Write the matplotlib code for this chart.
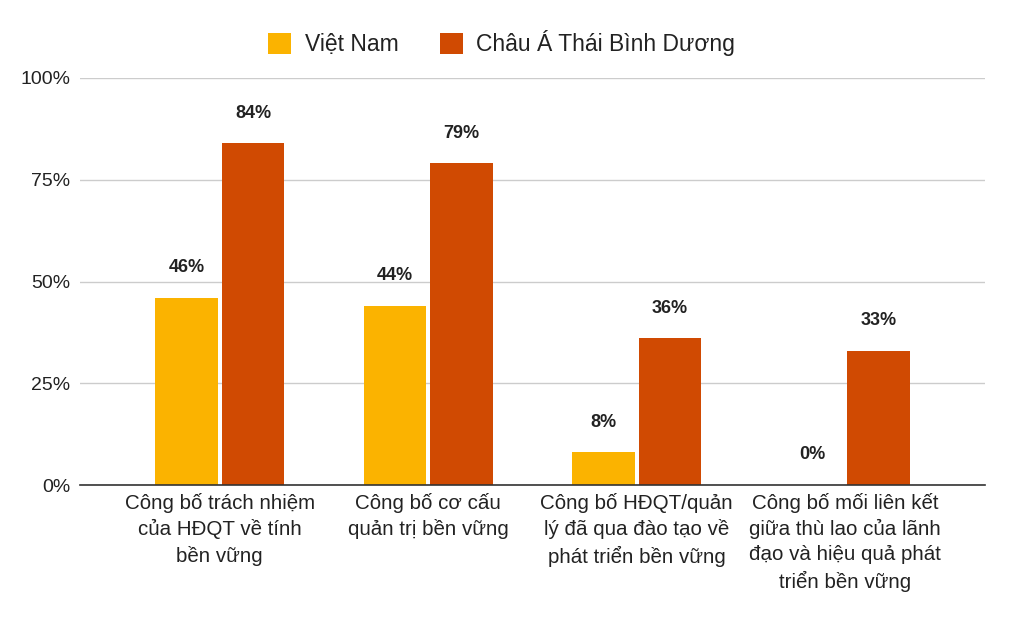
import matplotlib
matplotlib.use("Agg")
import matplotlib.pyplot as plt
import numpy as np

plt.rcParams["font.family"] = ["Liberation Sans", "DejaVu Sans"]

# --- data ---
categories = [
    "Công bố trách nhiệm\ncủa HĐQT về tính\nbền vững",
    "Công bố cơ cấu\nquản trị bền vững",
    "Công bố HĐQT/quản\nlý đã qua đào tạo về\nphát triển bền vững",
    "Công bố mối liên kết\ngiữa thù lao của lãnh\nđạo và hiệu quả phát\ntriển bền vững",
]
series_names = ["Việt Nam", "Châu Á Thái Bình Dương"]
vietnam = [46, 44, 8, 0]
apac = [84, 79, 36, 33]
yticks = [0, 25, 50, 75, 100]

VN_COLOR = "#FBB300"
APAC_COLOR = "#D04A02"
TXT = "#222222"

fig = plt.figure(figsize=(10.24, 6.34), dpi=100)
ax = fig.add_axes([80 / 1024, 1 - 485 / 634, 905 / 1024, 407 / 634])

x = np.arange(len(categories))
w = 0.30
off = 0.16
b1 = ax.bar(x - off, vietnam, width=w, color=VN_COLOR, zorder=3, label=series_names[0])
b2 = ax.bar(x + off, apac, width=w, color=APAC_COLOR, zorder=3, label=series_names[1])

for bars, vals in [(b1, vietnam), (b2, apac)]:
    for b, v in zip(bars, vals):
        ax.annotate(f"{v}%", (b.get_x() + b.get_width() / 2, v),
                    xytext=(0, 15.5), textcoords="offset points",
                    ha="center", va="bottom", fontsize=13, fontweight="bold",
                    color=TXT)

ax.set_xlim(-0.67, 3.67)
ax.set_ylim(0, 100)
ax.set_yticks(yticks)
ax.set_yticklabels([f"{t}%" for t in yticks], fontsize=14, color=TXT)
ax.set_xticks(x)
ax.set_xticklabels(categories, fontsize=14.8, color=TXT, linespacing=1.38)
ax.tick_params(axis="x", length=0, pad=6)
ax.tick_params(axis="y", length=0, pad=7)

ax.grid(axis="y", color="#cccccc", lw=1, zorder=0)
for s in ["top", "right", "left"]:
    ax.spines[s].set_visible(False)
ax.spines["bottom"].set_color("#333333")
ax.spines["bottom"].set_linewidth(1.2)
ax.spines["bottom"].set_zorder(4)

fig.legend(handles=[b1, b2], labels=series_names, loc="upper center",
           bbox_to_anchor=(0.49, 0.985), ncol=2, frameon=False,
           fontsize=16.5, handlelength=1.0, handleheight=1.0,
           handletextpad=0.6, columnspacing=1.8, labelcolor=TXT)

fig.savefig("out.png", dpi=100, facecolor="white")
